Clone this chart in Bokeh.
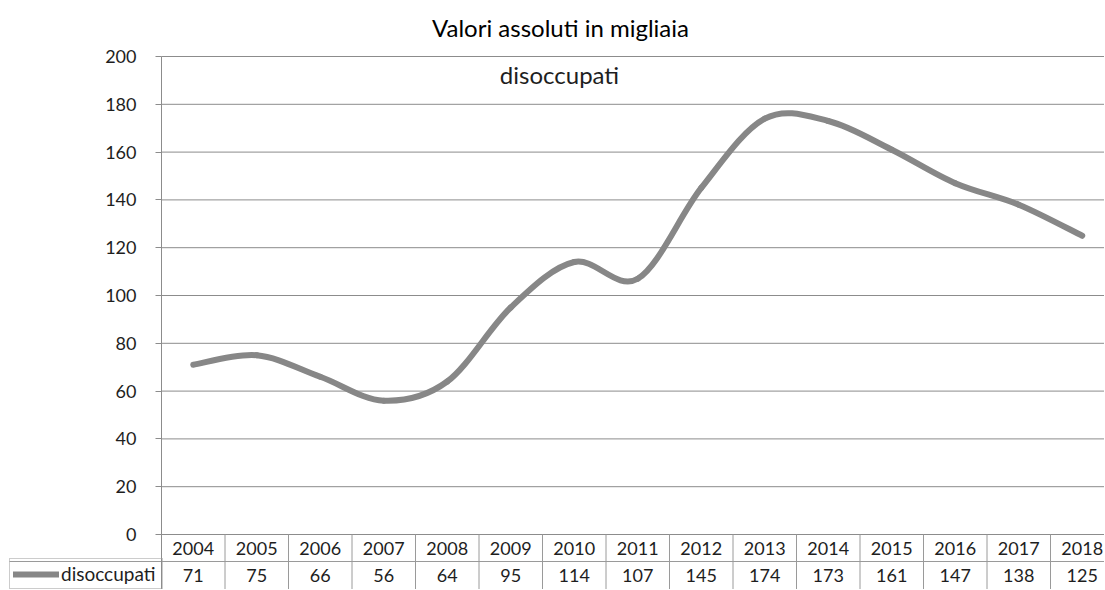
from bokeh.plotting import figure
from bokeh.models import Range1d, FixedTicker, Label, Legend, LegendItem
from bokeh.core.properties import value
from bokeh.embed import file_html
from bokeh.resources import INLINE

# ---- data ----
years = ["2004", "2005", "2006", "2007", "2008", "2009", "2010", "2011",
         "2012", "2013", "2014", "2015", "2016", "2017", "2018"]
disoccupati = [71, 75, 66, 56, 64, 95, 114, 107, 145, 174, 173, 161, 147, 138, 125]
y_ticks = [0, 20, 40, 60, 80, 100, 120, 140, 160, 180, 200]
outer_title = "Valori assoluti in migliaia"
series_name = "disoccupati"

# ---- layout constants (pixels, page coordinates) ----
ORIGIN = 1               # where the canvas starts on the page
W, H = 1104, 589
AXIS_PX = 162            # x of the value axis
TOP_PX, ZERO_PX = 57, 535
COL_PX = 63.5
Y_MAX = 200
FONT = "Lato"
TXT = "#1e1e1e"
GRID = "#8c8c8c"
BORDER = "#9a9a9a"

ppu = (ZERO_PX - TOP_PX) / Y_MAX
x_start = -(AXIS_PX - ORIGIN) / COL_PX
x_end = (ORIGIN + W - AXIS_PX) / COL_PX
y_top = Y_MAX + (TOP_PX - ORIGIN) / ppu
y_min = -(ORIGIN + H - ZERO_PX) / ppu


def ypx(page_y):
    return -(page_y - ZERO_PX) / ppu


def xpx(page_x):
    return (page_x - AXIS_PX) / COL_PX


p = figure(width=W, height=H, output_backend="svg", toolbar_location=None,
           x_range=Range1d(x_start, x_end), y_range=Range1d(y_min, y_top),
           x_axis_location=None, min_border_left=0, min_border_right=0,
           min_border_top=0, min_border_bottom=0)
p.outline_line_color = None
p.background_fill_color = "white"
p.border_fill_color = "white"

# value axis, drawn at x = 0 (left edge of the plot area)
ax = p.yaxis[0]
ax.fixed_location = 0
ax.bounds = (y_min, Y_MAX)
ax.ticker = FixedTicker(ticks=y_ticks)
ax.axis_line_color = GRID
ax.major_tick_line_color = GRID
ax.major_tick_out = 6
ax.major_tick_in = 0
ax.minor_tick_line_color = None
ax.major_label_standoff = 19
ax.major_label_text_font = FONT
ax.major_label_text_font_size = "18px"
ax.major_label_text_color = TXT

p.xgrid.visible = False
p.ygrid.visible = False

n = len(disoccupati)
# horizontal gridlines over the plot area
p.segment(x0=[0] * len(y_ticks), y0=y_ticks, x1=[n] * len(y_ticks), y1=y_ticks,
          line_color=GRID, line_width=1)

# smooth (Excel-like) curve through the data points
xs = [i + 0.5 for i in range(n)]
x0, y0, x1, y1, cx0, cy0, cx1, cy1 = [], [], [], [], [], [], [], []
for i in range(n - 1):
    a = i - 1 if i > 0 else i
    d = i + 2 if i + 2 < n else i + 1
    x0.append(xs[i]); y0.append(disoccupati[i])
    x1.append(xs[i + 1]); y1.append(disoccupati[i + 1])
    cx0.append(xs[i] + (xs[i + 1] - xs[a]) / 6)
    cy0.append(disoccupati[i] + (disoccupati[i + 1] - disoccupati[a]) / 6)
    cx1.append(xs[i + 1] - (xs[d] - xs[i]) / 6)
    cy1.append(disoccupati[i + 1] - (disoccupati[d] - disoccupati[i]) / 6)

r = p.bezier(x0=x0, y0=y0, x1=x1, y1=y1, cx0=cx0, cy0=cy0, cx1=cx1, cy1=cy1,
             line_color="#878787", line_width=6, line_cap="round")

# data table below the plot
row1 = ypx(562)
p.segment(x0=list(range(1, n + 1)), y0=[0] * n, x1=list(range(1, n + 1)),
          y1=[y_min] * n, line_color=BORDER, line_width=1)
p.segment(x0=[xpx(10)], y0=[row1], x1=[n], y1=[row1], line_color=BORDER, line_width=1)
p.text(x=xs, y=[ypx(548.5)] * n, text=years, text_align="center",
       text_baseline="middle", text_font=value(FONT), text_font_size="18px",
       text_color=TXT)
p.text(x=xs, y=[ypx(576)] * n, text=[str(v) for v in disoccupati],
       text_align="center", text_baseline="middle", text_font=value(FONT),
       text_font_size="18px", text_color=TXT)

# legend key cell of the table
legend = Legend(items=[LegendItem(label=series_name, renderers=[r])],
                location=(10 - ORIGIN, 0), orientation="vertical", padding=3,
                margin=0, spacing=0, glyph_width=46, glyph_height=22,
                label_height=22, label_width=98, label_standoff=2,
                border_line_color=BORDER, border_line_width=1,
                background_fill_color="white", background_fill_alpha=0,
                label_text_font=FONT, label_text_font_size="19px",
                label_text_color=TXT)
p.add_layout(legend)

# titles
p.add_layout(Label(x=xpx(561), y=ypx(28), text=outer_title, text_align="center",
                   text_baseline="middle", text_font=FONT, text_font_size="24px",
                   text_color="black"))
p.add_layout(Label(x=xpx(560), y=ypx(75), text=series_name, text_align="center",
                   text_baseline="middle", text_font=FONT, text_font_size="24px",
                   text_color=TXT))

open("out.html", "w").write(file_html(p, INLINE))
